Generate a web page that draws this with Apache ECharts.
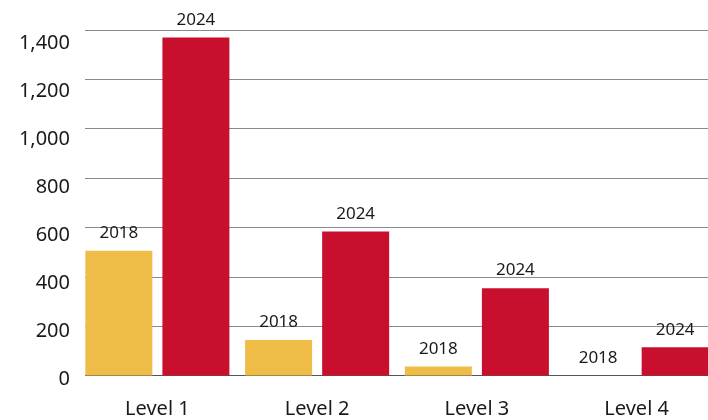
<!DOCTYPE html>
<html>
<head>
<meta charset="utf-8">
<script src="https://cdn.jsdelivr.net/npm/echarts@6.0.0/dist/echarts.min.js"></script>
<style>
  html, body { margin: 0; padding: 0; background: #fff; }
  #root { width: 708px; height: 420px; }
</style>
</head>
<body>
<div id="root"></div>
<script>
  const categories = ['Level 1', 'Level 2', 'Level 3', 'Level 4']
  const values2018 = [505, 144, 36, 0]
  const values2024 = [1370, 584, 354, 114]
  const yTicks = [0, 200, 400, 600, 800, 1000, 1200, 1400]

  const font = '"Noto Sans", sans-serif'
  const fmt = v => v.toLocaleString('en-US')

  const barLabel = name => ({
    show: true,
    position: 'top',
    distance: 9,
    formatter: name,
    color: '#1a1a1a',
    fontSize: 17,
    fontFamily: font
  })

  const valueAxis = (gridIndex, extra) => Object.assign({
    type: 'value',
    gridIndex,
    min: yTicks[0],
    max: yTicks[yTicks.length - 1],
    interval: 200,
    axisLine: { show: false },
    axisTick: { show: false },
    axisLabel: { show: false },
    splitLine: { show: false }
  }, extra)

  const chart = echarts.init(document.getElementById('root'))

  chart.setOption({
    animation: false,
    grid: [
      // bars
      { left: 77.5, width: 639, top: 30, bottom: 44.5, outerBoundsMode: 'none' },
      // value labels sit on a slightly different scale
      { left: 77.5, width: 639, top: 43.3, bottom: 40.3, outerBoundsMode: 'none' },
      // gridlines start a bit right of the first category edge
      { left: 85, width: 631.5, top: 30, bottom: 44.5, outerBoundsMode: 'none' }
    ],
    xAxis: [
      {
        type: 'category',
        data: categories,
        gridIndex: 0,
        axisLine: { show: false },
        axisTick: { show: false },
        axisLabel: { color: '#1a1a1a', fontSize: 20, fontFamily: font, margin: 24 }
      },
      { type: 'category', data: categories, gridIndex: 1, show: false },
      { type: 'category', data: categories, gridIndex: 2, show: false }
    ],
    yAxis: [
      valueAxis(0),
      valueAxis(1, {
        axisLabel: {
          color: '#1a1a1a',
          fontSize: 20,
          fontFamily: font,
          margin: 7.5,
          formatter: v => fmt(v)
        }
      }),
      valueAxis(2, {
        z: 0,
        splitLine: {
          show: true,
          lineStyle: {
            color: ['#555', '#8a8a8a', '#8a8a8a', '#8a8a8a', '#8a8a8a', '#8a8a8a', '#8a8a8a', '#8a8a8a'],
            width: 1
          }
        }
      })
    ],
    series: [
      {
        name: '2018',
        type: 'bar',
        xAxisIndex: 0,
        yAxisIndex: 0,
        data: values2018,
        barWidth: 67,
        barGap: '15%',
        itemStyle: { color: '#F0BC48' },
        label: barLabel('2018')
      },
      {
        name: '2024',
        type: 'bar',
        xAxisIndex: 0,
        yAxisIndex: 0,
        data: values2024,
        barWidth: 67,
        barGap: '15%',
        itemStyle: { color: '#C8102E' },
        label: barLabel('2024')
      }
    ]
  })
</script>
</body>
</html>
